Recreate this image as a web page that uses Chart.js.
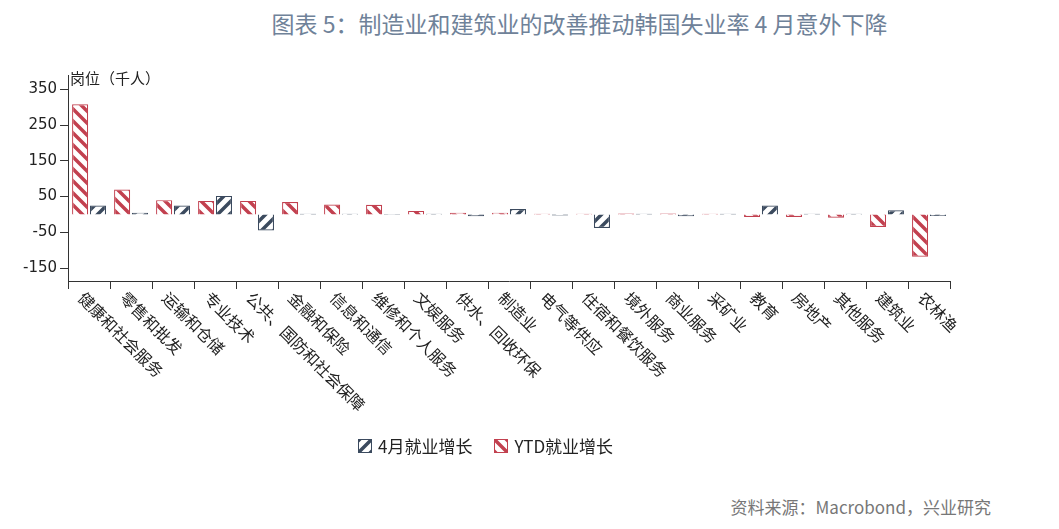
<!DOCTYPE html><html><head><meta charset="utf-8">
<script src="https://cdn.jsdelivr.net/npm/chart.js@4"></script>
<style>body{margin:0;background:#fff;font-family:"Noto Sans CJK SC";}
#t{position:absolute;left:0;width:1059px;top:6px;text-align:center;font-size:23px;color:#6f8299;padding-left:100px;box-sizing:border-box}
#s{position:absolute;right:68px;top:494px;font-size:17px;color:#777}
#w{position:absolute;left:0;top:60px;width:1000px;height:410px}
#lg{position:absolute;left:358px;top:433px;font-size:17px;color:#222;display:flex;gap:22px}
#lg span{display:flex;align-items:center;gap:6px}
#lg canvas{border:1px solid}</style></head><body>
<div id="t">图表 5：制造业和建筑业的改善推动韩国失业率 4 月意外下降</div>
<div id="w"><canvas id="c"></canvas></div>
<div id="lg"><span><canvas id="l1" width="12" height="12" style="border-color:#3b4a5e"></canvas>4月就业增长</span><span><canvas id="l2" width="12" height="12" style="border-color:#c2404f"></canvas>YTD就业增长</span></div>
<div id="s">资料来源：Macrobond，兴业研究</div>
<script>
const categories=["健康和社会服务","零售和批发","运输和仓储","专业技术","公共、国防和社会保障","金融和保险","信息和通信","维修和个人服务","文娱服务","供水、回收环保","制造业","电气等供应","住宿和餐饮服务","境外服务","商业服务","采矿业","教育","房地产","其他服务","建筑业","农林渔"];
const aprGrowth=[25,5,25,52,-45,2,2,1,2,-5,15,-3,-38,2,-5,2,25,2,2,12,-4];
const ytdGrowth=[308,70,40,38,38,35,28,27,10,5,5,2,2,3,3,2,-7,-7,-9,-35,-118];
const yTicks=[350,250,150,50,-50,-150];
function patC(color,dir){const c=document.createElement('canvas');c.width=c.height=12;const x=c.getContext('2d');x.fillStyle='#fff';x.fillRect(0,0,12,12);x.strokeStyle=color;x.lineWidth=3.5;x.beginPath();
 if(dir>0){x.moveTo(-3,15);x.lineTo(15,-3);x.moveTo(-9,9);x.lineTo(9,-9);x.moveTo(3,21);x.lineTo(21,3);}
 else{x.moveTo(-3,-3);x.lineTo(15,15);x.moveTo(-9,3);x.lineTo(9,21);x.moveTo(3,-9);x.lineTo(21,9);}
 x.stroke();return c;}
function pat(color,dir){return document.createElement('canvas').getContext('2d').createPattern(patC(color,dir),'repeat');}
document.getElementById('l1').getContext('2d').drawImage(patC('#3b4a5e',1),0,0);
document.getElementById('l2').getContext('2d').drawImage(patC('#c2404f',-1),0,0);
new Chart(document.getElementById('c'),{type:'bar',data:{labels:categories,datasets:[
{label:'YTD就业增长',data:ytdGrowth,backgroundColor:pat('#c2404f',-1),borderColor:'#c2404f',borderWidth:1.2,categoryPercentage:0.85,barPercentage:0.9},
{label:'4月就业增长',data:aprGrowth,backgroundColor:pat('#3b4a5e',1),borderColor:'#3b4a5e',borderWidth:1.2,categoryPercentage:0.85,barPercentage:0.9}]},
options:{responsive:true,maintainAspectRatio:false,animation:false,
layout:{padding:{left:20,top:15,bottom:181,right:50}},
plugins:{legend:{display:false},tooltip:{enabled:false}},
scales:{x:{offset:true,grid:{display:true,drawOnChartArea:false,offset:true,color:'#333',tickLength:8},border:{color:'#333'},ticks:{display:false}},
y:{min:-186,max:390,afterBuildTicks:a=>{a.ticks=[];for(let v=-150;v<=350;v+=50)a.ticks.push({value:v});},
grid:{display:true,drawOnChartArea:false,color:'#333',tickLength:8},border:{color:'#333'},
ticks:{font:{size:15,family:'DejaVu Sans'},color:'#222',callback:v=>yTicks.includes(v)?v:''}}}},
plugins:[{id:'ul',afterDraw(c){const g=c.ctx,y=c.scales.y,x=c.scales.x;g.save();g.font='15px "Noto Sans CJK SC"';g.fillStyle='#222';g.fillText('岗位（千人）',y.right+2,y.getPixelForValue(365));
 g.font='16px "Noto Sans CJK SC"';
 categories.forEach((s,i)=>{const px=x.getPixelForValue(i)-8,py=x.top+14;g.save();g.translate(px,py);g.rotate(Math.PI/4);g.textBaseline='middle';g.fillText(s,0,0);g.restore();});
 g.restore();}}]});
</script></body></html>
